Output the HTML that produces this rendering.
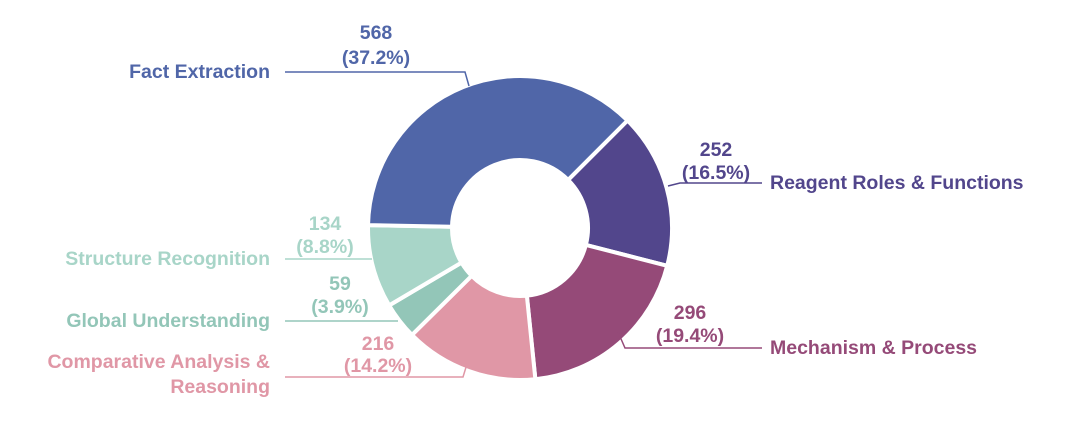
<!DOCTYPE html>
<html><head><meta charset="utf-8"><style>
html,body{margin:0;padding:0;background:#fff;width:1080px;height:422px;overflow:hidden}
text{font-family:"Liberation Sans",sans-serif;font-weight:bold;font-size:19.5px}
</style></head><body>
<svg width="1080" height="422" xmlns="http://www.w3.org/2000/svg">
<g id="donut" stroke="#fff" stroke-width="4" stroke-linejoin="round"></g>
<g fill="none" stroke-width="1.5">
<polyline points="285,72 465,72 469,86" stroke="#5066a8"/>
<polyline points="668,186 680,183 762,183" stroke="#52468c"/>
<polyline points="618,332 625,348 762,348" stroke="#954a78"/>
<polyline points="285,259 372,259" stroke="#a8d5c8"/>
<polyline points="285,321 398,321" stroke="#93c6b8"/>
<polyline points="285,377 463,377 467,364" stroke="#e097a6"/>
</g>
<g text-anchor="middle">
<text x="376" y="39" fill="#5066a8">568</text><text x="376" y="64" fill="#5066a8">(37.2%)</text>
<text x="716" y="156" fill="#52468c">252</text><text x="716" y="179" fill="#52468c">(16.5%)</text>
<text x="690" y="319" fill="#954a78">296</text><text x="690" y="342" fill="#954a78">(19.4%)</text>
<text x="325" y="230" fill="#a8d5c8">134</text><text x="325" y="253" fill="#a8d5c8">(8.8%)</text>
<text x="340" y="290" fill="#93c6b8">59</text><text x="340" y="313" fill="#93c6b8">(3.9%)</text>
<text x="378" y="350" fill="#e097a6">216</text><text x="378" y="372" fill="#e097a6">(14.2%)</text>
</g>
<g text-anchor="end">
<text x="270" y="78" fill="#5066a8">Fact Extraction</text>
<text x="270" y="265" fill="#a8d5c8">Structure Recognition</text>
<text x="270" y="327" fill="#93c6b8">Global Understanding</text>
<text x="270" y="368" fill="#e097a6">Comparative Analysis &amp;</text>
<text x="270" y="393" fill="#e097a6">Reasoning</text>
</g>
<text x="770" y="189" fill="#52468c">Reagent Roles &amp; Functions</text>
<text x="770" y="354" fill="#954a78">Mechanism &amp; Process</text>
</svg>
<script>
var cx=520,cy=228,R=152,r=68;
var segs=[[45,104.4,"#52468c"],[104.4,174.2,"#954a78"],[174.2,225.3,"#e097a6"],[225.3,239.4,"#93c6b8"],[239.4,271.1,"#a8d5c8"],[271.1,405,"#5066a8"]];
function p(a,rad){a=(a-90)*Math.PI/180;return (cx+rad*Math.cos(a)).toFixed(2)+","+(cy+rad*Math.sin(a)).toFixed(2);}
var g=document.getElementById("donut"),h="";
segs.forEach(function(s){var l=(s[1]-s[0])>180?1:0;
h+='<path fill="'+s[2]+'" d="M'+p(s[0],R)+' A'+R+','+R+' 0 '+l+' 1 '+p(s[1],R)+' L'+p(s[1],r)+' A'+r+','+r+' 0 '+l+' 0 '+p(s[0],r)+' Z"/>';});
g.innerHTML=h;
</script>
</body></html>
